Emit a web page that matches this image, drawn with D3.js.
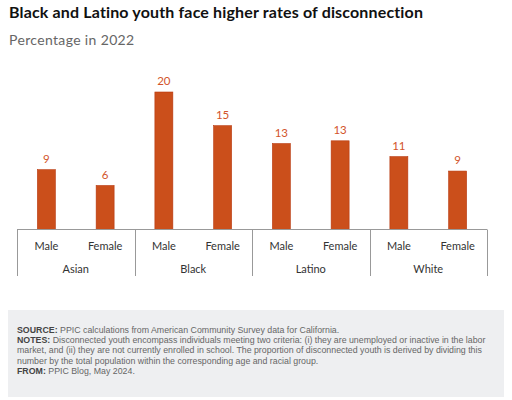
<!DOCTYPE html>
<html><head><meta charset="utf-8">
<script src="https://cdn.jsdelivr.net/npm/d3@7/dist/d3.min.js"></script>
<style>body{margin:0;background:#fff;} svg{display:block;}</style>
</head><body>
<script>
const groups = ["Asian", "Black", "Latino", "White"];
const sexes = ["Male", "Female"];
const values = [
  [8.7, 6.4],
  [20.0, 15.1],
  [12.5, 12.9],
  [10.6, 8.5]
];
const labels = [
  ["9", "6"],
  ["20", "15"],
  ["13", "13"],
  ["11", "9"]
];
const title = "Black and Latino youth face higher rates of disconnection";
const subtitle = "Percentage in 2022";
const notes = [
  [["SOURCE:", true], [" PPIC calculations from American Community Survey data for California.", false]],
  [["NOTES:", true], [" Disconnected youth encompass individuals meeting two criteria: (i) they are unemployed or inactive in the labor", false]],
  [["market, and (ii) they are not currently enrolled in school. The proportion of disconnected youth is derived by dividing this", false]],
  [["number by the total population within the corresponding age and racial group.", false]],
  [["FROM:", true], [" PPIC Blog, May 2024.", false]]
];

const W = 512, H = 400;
const svg = d3.select("body").append("svg").attr("width", W).attr("height", H);
const font = "Lato, 'Open Sans', sans-serif";

svg.append("text").attr("x", 9).attr("y", 18).attr("font-family", font)
  .attr("font-weight", 700).attr("font-size", 16).attr("letter-spacing", 0.15).attr("fill", "#111").text(title);
svg.append("text").attr("x", 9).attr("y", 45).attr("font-family", font)
  .attr("font-size", 14).attr("letter-spacing", 0.35).attr("fill", "#666").text(subtitle);

const x0 = d3.scaleBand().domain(groups).range([17, 487]).padding(0);
const x1 = d3.scaleBand().domain(sexes).range([0, x0.bandwidth()]).paddingInner(0.694).paddingOuter(0.347);
const y = d3.scaleLinear().domain([0, 20]).range([229.5, 92]);

const data = [];
groups.forEach((g, i) => sexes.forEach((s, j) => data.push({g, s, v: values[i][j], l: labels[i][j]})));

const bars = svg.append("g");
bars.selectAll("rect").data(data).join("rect")
  .attr("x", d => x0(d.g) + x1(d.s))
  .attr("y", d => y(d.v))
  .attr("width", x1.bandwidth())
  .attr("height", d => y(0) - y(d.v))
  .attr("fill", "#cb4f1b").attr("stroke", "#b8380e").attr("stroke-width", 0.6);
bars.selectAll("text").data(data).join("text")
  .attr("x", d => x0(d.g) + x1(d.s) + x1.bandwidth() / 2)
  .attr("y", d => y(d.v) - 7)
  .attr("text-anchor", "middle").attr("font-family", font).attr("font-size", 11.5)
  .attr("fill", "#d2542a").text(d => d.l);

// axis
const ax = svg.append("g").attr("stroke", "#999").attr("stroke-width", 1);
ax.append("line").attr("x1", 17).attr("x2", 487).attr("y1", 229.5).attr("y2", 229.5);
const bounds = groups.map(g => x0(g)).concat([x0.range()[1]]);
ax.selectAll("line.t").data(bounds).join("line").attr("class", "t")
  .attr("x1", d => Math.round(d) + 0.5).attr("x2", d => Math.round(d) + 0.5)
  .attr("y1", 229.5).attr("y2", 276);

const lab = svg.append("g").attr("font-family", font).attr("font-size", 11).attr("fill", "#333").attr("text-anchor", "middle");
data.forEach(d => {
  lab.append("text").attr("x", x0(d.g) + x1(d.s) + x1.bandwidth() / 2).attr("y", 249.5).text(d.s);
});
groups.forEach(g => {
  lab.append("text").attr("x", x0(g) + x0.bandwidth() / 2).attr("y", 273).text(g);
});

// footer
svg.append("rect").attr("x", 8).attr("y", 310).attr("width", 496).attr("height", 87).attr("fill", "#eeeff1");
const ft = svg.append("g").attr("font-family", "'Liberation Sans', Arial, sans-serif").attr("font-size", 8.8).attr("fill", "#555");
notes.forEach((line, i) => {
  const t = ft.append("text").attr("x", 17).attr("y", 332.5 + i * 10.4);
  line.forEach(([s, b]) => t.append("tspan").attr("font-weight", b ? 700 : 400).attr("fill", b ? "#444" : "#666").text(s));
});
</script>
</body></html>
